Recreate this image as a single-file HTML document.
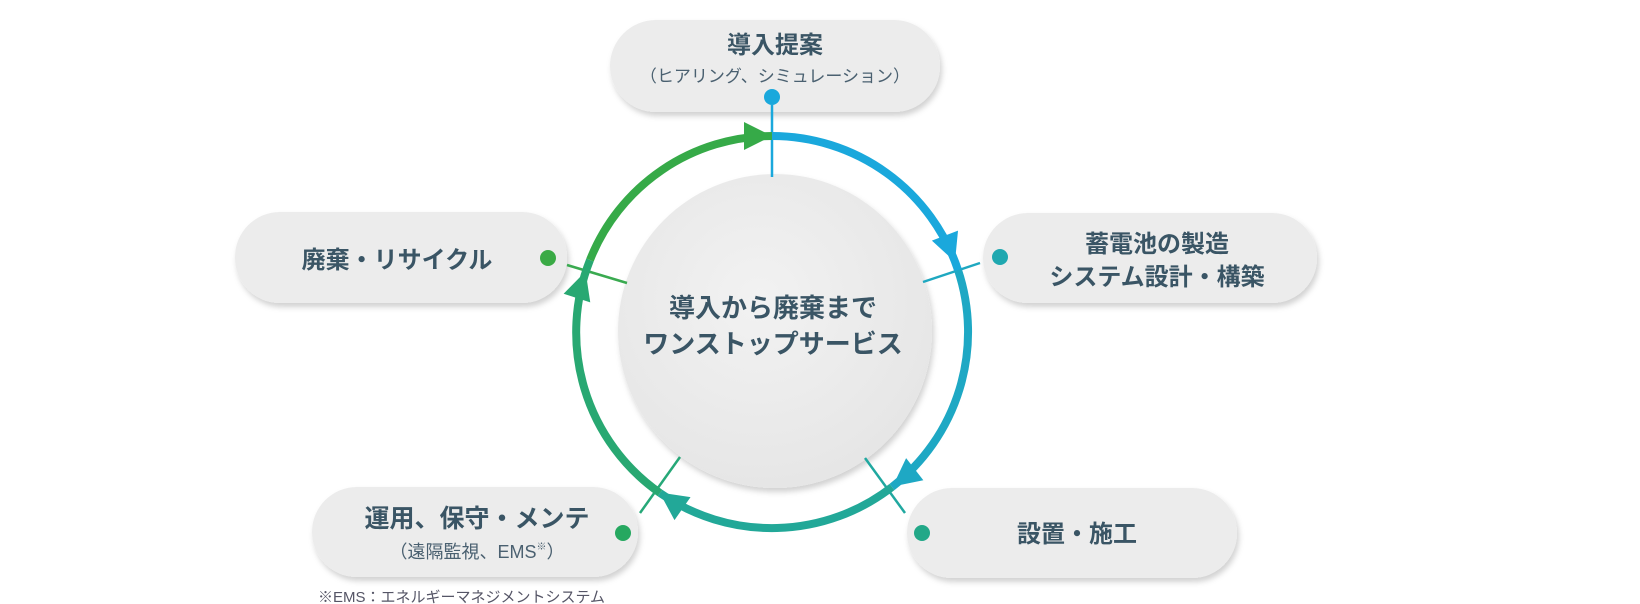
<!DOCTYPE html>
<html><head><meta charset="utf-8"><style>
body{margin:0;background:#fff;width:1640px;height:604px;overflow:hidden;font-family:"Liberation Sans","Noto Sans CJK JP",sans-serif;}
</style></head><body>
<svg width="1640" height="604" viewBox="0 0 1640 604" xmlns="http://www.w3.org/2000/svg" style="position:absolute;left:0;top:0">
<defs>
<filter id="sh" x="-20%" y="-30%" width="140%" height="160%"><feDropShadow dx="2" dy="4" stdDeviation="3" flood-color="#000" flood-opacity="0.18"/></filter>
<radialGradient id="cg" cx="0.45" cy="0.4" r="0.6"><stop offset="0" stop-color="#f2f2f2"/><stop offset="1" stop-color="#e6e6e6"/></radialGradient>
</defs>
<g fill="#ececec" filter="url(#sh)">
<rect x="610" y="20" width="330" height="92" rx="46"/>
<rect x="983" y="213" width="334" height="90" rx="45"/>
<rect x="235" y="212" width="332" height="91" rx="45"/>
<rect x="312" y="487" width="326" height="90" rx="45"/>
<rect x="907" y="488" width="330" height="90" rx="45"/>
<circle cx="775" cy="331" r="157" fill="url(#cg)"/>
</g>
<g stroke-width="2.5">
<line x1="772" y1="105" x2="772" y2="177" stroke="#1aa8dc"/>
<line x1="923" y1="282" x2="980" y2="263" stroke="#1fa8c0"/>
<line x1="567" y1="265" x2="627" y2="283" stroke="#3aaa50"/>
<line x1="640" y1="513" x2="680" y2="457" stroke="#26a878"/>
<line x1="865" y1="458" x2="905" y2="513" stroke="#20a8a0"/>
</g>
<g fill="none" stroke-width="8">
<path d="M772 136 A196 196 0 0 1 958 270" stroke="#1aa8dc"/>
<path d="M958 270 A196 196 0 0 1 892 487" stroke="#1ea8c4"/>
<path d="M892 487 A196 196 0 0 1 660 493" stroke="#22a898"/>
<path d="M660 493 A196 196 0 0 1 590 260" stroke="#28a872"/>
<path d="M590 260 A196 196 0 0 1 772 136" stroke="#36aa48"/>
</g>
<polygon points="772,136 744,122 744,150" fill="#36aa48" transform="rotate(0 772 332)"/>
<polygon points="772,136 744,122 744,150" fill="#1aa8dc" transform="rotate(69 772 332)"/>
<polygon points="772,136 744,122 744,150" fill="#1ea8c4" transform="rotate(142 772 332)"/>
<polygon points="772,136 744,122 744,150" fill="#22a898" transform="rotate(215 772 332)"/>
<polygon points="772,136 744,122 744,150" fill="#28a872" transform="rotate(288 772 332)"/>
<circle cx="772" cy="97" r="8" fill="#1aa8dc"/>
<circle cx="1000" cy="257" r="8" fill="#1fa8b0"/>
<circle cx="548" cy="258" r="8" fill="#3aaa45"/>
<circle cx="623" cy="533" r="8" fill="#26a860"/>
<circle cx="922" cy="533" r="8" fill="#22a888"/>
<g font-family="Liberation Sans, Noto Sans CJK JP, sans-serif" fill="#3a5565" text-anchor="middle" font-weight="bold">
<text x="775" y="53" font-size="24">導入提案</text>
<text x="1157" y="252" font-size="24">蓄電池の製造</text>
<text x="1157" y="285" font-size="24">システム設計・構築</text>
<text x="397" y="268" font-size="24">廃棄・リサイクル</text>
<text x="477" y="527" font-size="25">運用、保守・メンテ</text>
<text x="1077" y="542" font-size="24">設置・施工</text>
<text x="773" y="317" font-size="26">導入から廃棄まで</text>
<text x="773" y="353" font-size="26">ワンストップサービス</text>
</g>
<g font-family="Liberation Sans, Noto Sans CJK JP, sans-serif" fill="#4a6070" text-anchor="middle">
<text x="775" y="82" font-size="17">（ヒアリング、シミュレーション）</text>
<text x="477" y="558" font-size="18">（遠隔監視、EMS<tspan font-size="10" dy="-8">※</tspan><tspan dy="8">）</tspan></text>
<text x="318" y="602" font-size="15" text-anchor="start" fill="#556">※EMS：エネルギーマネジメントシステム</text>
</g>
</svg>
</body></html>
